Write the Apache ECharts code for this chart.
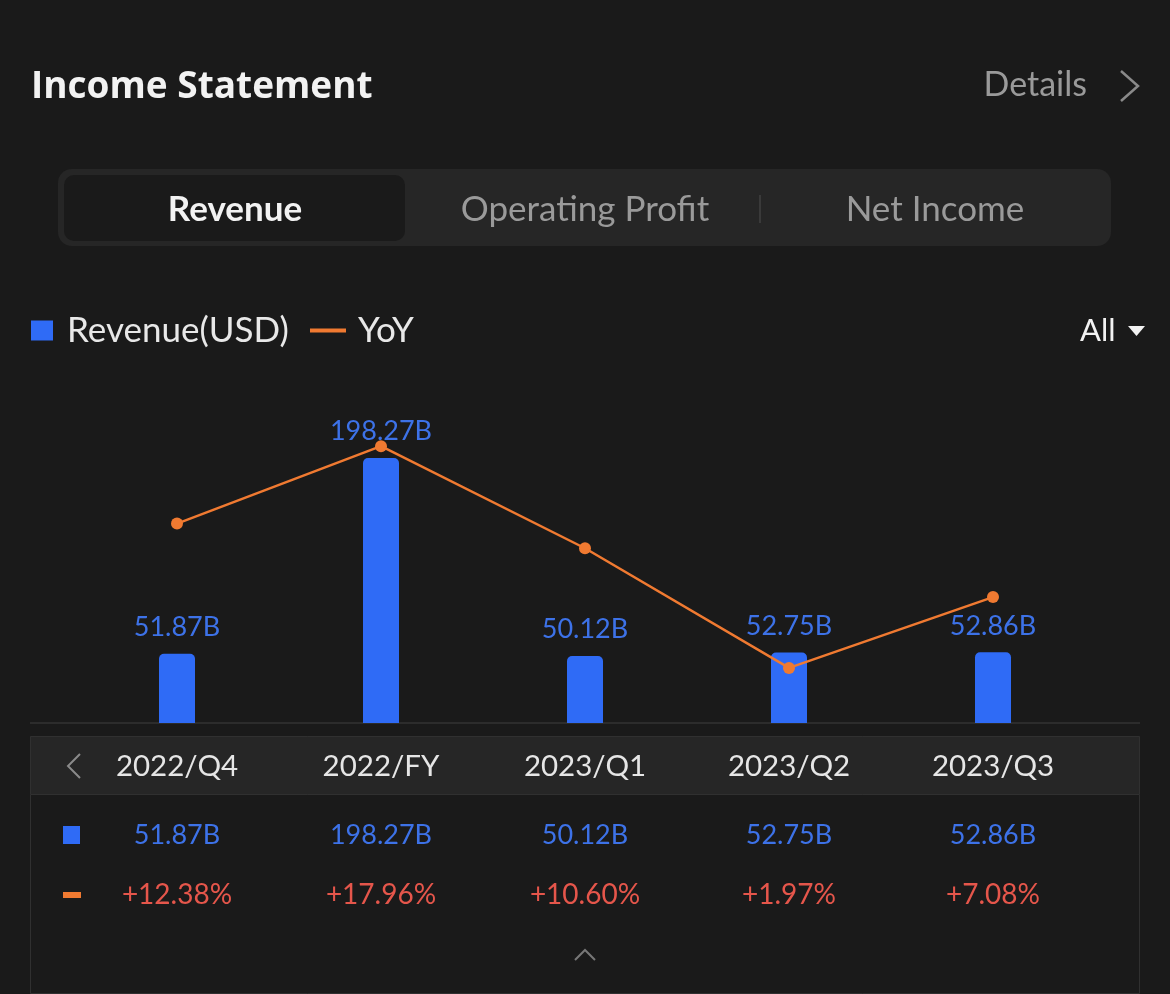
<!DOCTYPE html>
<html>
<head>
<meta charset="utf-8">
<script src="https://cdn.jsdelivr.net/npm/echarts@6/dist/echarts.min.js"></script>
<style>
html,body{margin:0;padding:0;background:#1a1a1a;}
#c{width:1170px;height:994px;}
</style>
</head>
<body>
<div id="c"></div>
<script>
var categories = ['2022/Q4', '2022/FY', '2023/Q1', '2023/Q2', '2023/Q3'];
var revenue = [51.87, 198.27, 50.12, 52.75, 52.86];
var yoy = [12.38, 17.96, 10.60, 1.97, 7.08];
var tabs = ['Revenue', 'Operating Profit', 'Net Income'];

var FONT = 'Lato, "Noto Sans", sans-serif';
var BLUE = '#2f6bf6';
var BLUE_TXT = '#3d72e8';
var ORANGE = '#f07a31';
var RED = '#e5564b';

var revLabels = revenue.map(function (v) { return v.toFixed(2) + 'B'; });
var yoyLabels = yoy.map(function (v) { return (v >= 0 ? '+' : '') + v.toFixed(2) + '%'; });

var chart = echarts.init(document.getElementById('c'));

var graphics = [
  // title
  { type: 'text', x: 31, y: 87, style: { text: 'Income Statement', fill: '#f2f2f2', font: 'bold 37px "Open Sans", ' + FONT, verticalAlign: 'middle' } },
  { type: 'text', x: 1087, y: 85, style: { text: 'Details', fill: '#9a9a9a', font: '34px ' + FONT, align: 'right', verticalAlign: 'middle' } },
  { type: 'polyline', shape: { points: [[1121, 71], [1138, 86], [1121, 101]] }, style: { stroke: '#8a8a8a', lineWidth: 2.5, fill: null } },
  // tabs
  { type: 'rect', shape: { x: 58, y: 169, width: 1053, height: 77, r: 14 }, style: { fill: '#262626' } },
  { type: 'rect', shape: { x: 64, y: 175, width: 341, height: 66, r: 10 }, style: { fill: '#1a1a1a' } },
  { type: 'line', shape: { x1: 760, y1: 195, x2: 760, y2: 223 }, style: { stroke: '#3a3a3a', lineWidth: 2 } },
  { type: 'text', x: 235, y: 210, style: { text: tabs[0], fill: '#f2f2f2', font: 'bold 35px ' + FONT, align: 'center', verticalAlign: 'middle' } },
  { type: 'text', x: 585, y: 210, style: { text: tabs[1], fill: '#9a9a9a', font: '35px ' + FONT, align: 'center', verticalAlign: 'middle' } },
  { type: 'text', x: 935, y: 210, style: { text: tabs[2], fill: '#9a9a9a', font: '35px ' + FONT, align: 'center', verticalAlign: 'middle' } },
  // All dropdown
  { type: 'text', x: 1080, y: 331, style: { text: 'All', fill: '#f2f2f2', font: '31px ' + FONT, verticalAlign: 'middle' } },
  { type: 'polygon', shape: { points: [[1128, 326], [1145, 326], [1136.5, 336]] }, style: { fill: '#f2f2f2' } },
  // baseline
  { type: 'line', shape: { x1: 30, y1: 723, x2: 1140, y2: 723 }, style: { stroke: '#333333', lineWidth: 1.5 } },
  // table header strip
  { type: 'rect', z: -1, shape: { x: 30.5, y: 736.5, width: 1109, height: 58 }, style: { fill: '#262626', stroke: '#303030', lineWidth: 1 } },
  // table body border
  { type: 'polyline', z: -1, shape: { points: [[30.5, 795], [30.5, 993.5], [1139.5, 993.5], [1139.5, 795]] }, style: { stroke: '#303030', lineWidth: 1, fill: null } },
  { type: 'polyline', shape: { points: [[80, 754], [68, 766], [80, 778]] }, style: { stroke: '#8a8a8a', lineWidth: 2, fill: null } },
  // row markers
  { type: 'rect', shape: { x: 63, y: 826, width: 17, height: 18 }, style: { fill: BLUE } },
  { type: 'rect', shape: { x: 63, y: 892, width: 18, height: 6 }, style: { fill: ORANGE } },
  // collapse caret
  { type: 'polyline', shape: { points: [[575, 960], [585, 950], [595, 960]] }, style: { stroke: '#777777', lineWidth: 2, fill: null } }
];

var option = {
  backgroundColor: '#1a1a1a',
  animation: false,
  textStyle: { fontFamily: FONT },
  legend: [
    {
      data: [{ name: 'Revenue(USD)', icon: 'rect' }],
      left: 31, top: 313, padding: 0, itemWidth: 22, itemHeight: 20, selectedMode: false,
      textStyle: { color: '#e8e8e8', fontSize: 35, fontFamily: FONT, padding: [0, 0, 0, 9] }
    },
    {
      data: [{ name: 'YoY', icon: 'rect' }],
      left: 310, top: 313, padding: 0, itemWidth: 36, itemHeight: 4, selectedMode: false,
      textStyle: { color: '#e8e8e8', fontSize: 35, fontFamily: FONT, padding: [0, 0, 0, 7] }
    }
  ],
  grid: { left: 75, right: 75, top: 404, bottom: 271, containLabel: false },
  xAxis: [
    {
      type: 'category', data: categories, position: 'bottom',
      axisLine: { show: false }, axisTick: { show: false },
      axisLabel: { color: '#e6e6e6', fontSize: 29.5, fontFamily: FONT, margin: 43, verticalAlign: 'middle' }
    },
    {
      type: 'category', data: revLabels, position: 'bottom',
      axisLine: { show: false }, axisTick: { show: false },
      axisLabel: { color: BLUE_TXT, fontSize: 27, fontFamily: FONT, margin: 112, verticalAlign: 'middle' }
    },
    {
      type: 'category', data: yoyLabels, position: 'bottom',
      axisLine: { show: false }, axisTick: { show: false },
      axisLabel: { color: RED, fontSize: 28, fontFamily: FONT, margin: 172, verticalAlign: 'middle' }
    }
  ],
  yAxis: [
    { type: 'value', min: 0, max: 238.7, show: false, splitLine: { show: false } },
    { type: 'value', min: -2, max: 21, show: false, splitLine: { show: false } }
  ],
  series: [
    {
      name: 'Revenue(USD)', type: 'bar', data: revenue, xAxisIndex: 0, yAxisIndex: 0,
      barWidth: 36, z: 2,
      itemStyle: { color: BLUE, borderRadius: [5, 5, 0, 0] },
      label: {
        show: true, position: 'top', distance: 13, color: BLUE_TXT, fontSize: 27, fontFamily: FONT,
        formatter: function (p) { return p.value.toFixed(2) + 'B'; }
      }
    },
    {
      name: 'YoY', type: 'line', data: yoy, xAxisIndex: 0, yAxisIndex: 1, z: 5,
      symbol: 'circle', symbolSize: 12,
      lineStyle: { color: ORANGE, width: 2.5 },
      itemStyle: { color: ORANGE }
    }
  ],
  graphic: graphics
};
chart.setOption(option);
</script>
</body>
</html>
